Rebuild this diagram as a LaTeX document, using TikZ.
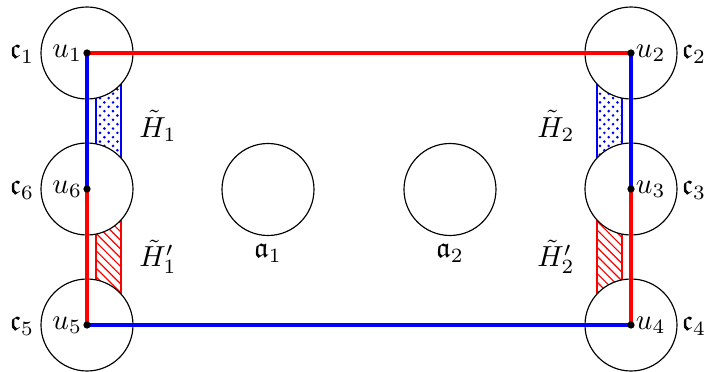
\documentclass[tikz,border=0pt]{standalone}
\usepackage{amssymb}
\usetikzlibrary{patterns}
\begin{document}
\begin{tikzpicture}[x=0.345pt,y=-0.345pt,
  vtx/.style={circle,draw=black,fill=white,minimum size=31.74pt,inner sep=0pt},
  redge/.style={red,line width=1.1pt},
  bedge/.style={blue,line width=1.1pt},
  dotpat/.style={draw=blue,line width=0.4pt,pattern=crosshatch dots,pattern color=blue},
  linepat/.style={draw=red,line width=0.4pt,pattern=north west lines,pattern color=red},
  ulab/.style={inner sep=1.5pt},
  lab/.style={inner sep=0pt}]
\useasboundingbox (0,0) rectangle (705,372);
% hatched strips
\draw[dotpat] (96,53) rectangle (121,189);
\draw[linepat] (96,189) rectangle (121,325);
\draw[dotpat] (597,53) rectangle (622,189);
\draw[linepat] (597,189) rectangle (622,325);
% circles
\node[vtx] (n1) at (87,53) {};
\node[vtx] (n6) at (87,189) {};
\node[vtx] (n5) at (87,325) {};
\node[vtx] (n2) at (631,53) {};
\node[vtx] (n3) at (631,189) {};
\node[vtx] (n4) at (631,325) {};
\node[vtx] (a1) at (268,189.5) {};
\node[vtx] (a2) at (450,189.5) {};
% edges
\draw[redge] (n1.center) -- (n2.center);
\draw[bedge] (n1.center) -- (n6.center);
\draw[redge] (n6.center) -- (n5.center);
\draw[bedge] (n5.center) -- (n4.center);
\draw[redge] (n4.center) -- (n3.center);
\draw[bedge] (n3.center) -- (n2.center);
% dots
\foreach \n in {n1,n2,n3,n4,n5,n6} \fill (\n.center) circle (1.25pt);
% vertex labels
\node[ulab,anchor=east] (u1) at (n1.center) {$u_1$};
\node[ulab,anchor=east] (u6) at (n6.center) {$u_6$};
\node[ulab,anchor=east] (u5) at (n5.center) {$u_5$};
\node[ulab,anchor=west] (u2) at (n2.center) {$u_2$};
\node[ulab,anchor=west] (u3) at (n3.center) {$u_3$};
\node[ulab,anchor=west] (u4) at (n4.center) {$u_4$};
% component labels
\node[lab] (c1) at (22,54) {$\mathfrak{c}_1$};
\node[lab] (c6) at (22,190) {$\mathfrak{c}_6$};
\node[lab] (c5) at (22,326) {$\mathfrak{c}_5$};
\node[lab] (c2) at (694,54) {$\mathfrak{c}_2$};
\node[lab] (c3) at (694,190) {$\mathfrak{c}_3$};
\node[lab] (c4) at (694,326) {$\mathfrak{c}_4$};
\node[lab] (la1) at (268,253) {$\mathfrak{a}_1$};
\node[lab] (la2) at (450,253) {$\mathfrak{a}_2$};
% H labels
\node[lab] (h1) at (158,126) {$\tilde{H}_1$};
\node[lab] (h1p) at (158,257) {$\tilde{H}_1'$};
\node[lab] (h2) at (556,126) {$\tilde{H}_2$};
\node[lab] (h2p) at (556,257) {$\tilde{H}_2'$};
\end{tikzpicture}
\end{document}
